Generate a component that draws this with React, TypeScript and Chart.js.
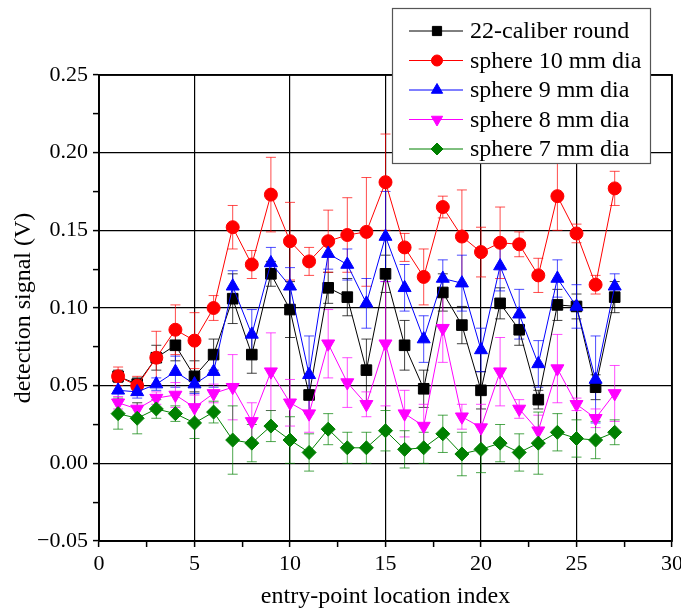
import React, { useEffect, useRef } from "react";
import { Chart, registerables } from "chart.js";
import { drawPoint } from "chart.js/helpers";
Chart.register(...registerables);

const FONT = "'Liberation Serif', 'Times New Roman', serif";

const locationIndex = [1, 2, 3, 4, 5, 6, 7, 8, 9, 10, 11, 12, 13, 14, 15, 16, 17, 18, 19, 20, 21, 22, 23, 24, 25, 26, 27];

const caliber22 = [0.056, 0.051, 0.068, 0.076, 0.056, 0.070, 0.106, 0.070, 0.122, 0.099, 0.044, 0.113, 0.107, 0.060, 0.122, 0.076, 0.048, 0.110, 0.089, 0.047, 0.103, 0.086, 0.041, 0.102, 0.101, 0.049, 0.107];
const caliber22Err = [0.004, 0.004, 0.008, 0.010, 0.010, 0.010, 0.016, 0.012, 0.008, 0.018, 0.012, 0.010, 0.012, 0.020, 0.012, 0.016, 0.012, 0.012, 0.012, 0.012, 0.010, 0.010, 0.006, 0.010, 0.008, 0.008, 0.010];

const sphere10 = [0.056, 0.050, 0.068, 0.086, 0.079, 0.100, 0.152, 0.128, 0.173, 0.143, 0.130, 0.143, 0.147, 0.149, 0.181, 0.139, 0.120, 0.165, 0.146, 0.136, 0.142, 0.141, 0.121, 0.172, 0.148, 0.115, 0.177];
const sphere10Err = [0.006, 0.006, 0.017, 0.016, 0.018, 0.008, 0.014, 0.009, 0.024, 0.025, 0.009, 0.020, 0.024, 0.035, 0.031, 0.009, 0.018, 0.007, 0.030, 0.016, 0.023, 0.008, 0.011, 0.022, 0.006, 0.006, 0.011];

const sphere9 = [0.047, 0.046, 0.051, 0.059, 0.051, 0.059, 0.114, 0.083, 0.129, 0.114, 0.057, 0.135, 0.128, 0.103, 0.146, 0.113, 0.080, 0.119, 0.116, 0.073, 0.127, 0.096, 0.064, 0.119, 0.101, 0.054, 0.114];
const sphere9Err = [0.006, 0.004, 0.004, 0.010, 0.006, 0.010, 0.010, 0.016, 0.010, 0.012, 0.025, 0.010, 0.010, 0.016, 0.029, 0.015, 0.015, 0.012, 0.018, 0.014, 0.016, 0.016, 0.015, 0.012, 0.014, 0.028, 0.008];

const sphere8 = [0.039, 0.035, 0.042, 0.044, 0.036, 0.045, 0.049, 0.027, 0.059, 0.039, 0.032, 0.077, 0.052, 0.038, 0.077, 0.032, 0.024, 0.087, 0.030, 0.023, 0.059, 0.035, 0.021, 0.061, 0.038, 0.029, 0.045];
const sphere8Err = [0.004, 0.004, 0.004, 0.008, 0.008, 0.006, 0.021, 0.012, 0.025, 0.015, 0.012, 0.022, 0.016, 0.008, 0.040, 0.015, 0.014, 0.022, 0.008, 0.015, 0.022, 0.006, 0.010, 0.022, 0.004, 0.006, 0.018];

const sphere7 = [0.032, 0.029, 0.035, 0.032, 0.026, 0.033, 0.015, 0.013, 0.024, 0.015, 0.007, 0.022, 0.010, 0.010, 0.021, 0.009, 0.010, 0.019, 0.006, 0.009, 0.013, 0.007, 0.013, 0.020, 0.016, 0.015, 0.020];
const sphere7Err = [0.010, 0.010, 0.006, 0.005, 0.010, 0.007, 0.022, 0.012, 0.010, 0.015, 0.012, 0.010, 0.010, 0.010, 0.013, 0.012, 0.010, 0.012, 0.014, 0.015, 0.012, 0.012, 0.020, 0.012, 0.012, 0.012, 0.008];

const seriesNames = ["22-caliber round", "sphere 10 mm dia", "sphere 9 mm dia", "sphere 8 mm dia", "sphere 7 mm dia"];
const seriesValues = [caliber22, sphere10, sphere9, sphere8, sphere7];
const seriesErrors = [caliber22Err, sphere10Err, sphere9Err, sphere8Err, sphere7Err];
const seriesColors = ["#000000", "#ff0000", "#0000ff", "#ff00ff", "#008000"];
const errColors = ["rgba(0,0,0,0.75)", "rgba(255,0,0,0.7)", "rgba(0,0,255,0.7)", "rgba(255,0,255,0.7)", "rgba(0,128,0,0.7)"];
const markerStyles = ["rect", "circle", "triangle", "triangle", "rectRot"];
const markerRotation = [0, 0, 0, 180, 0];
const markerRadius = [7.5, 6.5, 7.5, 7.5, 7];

const xTitle = "entry-point location index";
const yTitle = "detection signal (V)";

const isMultiple = (v: number, step: number) => Math.abs(v / step - Math.round(v / step)) < 1e-6;

const errorBarPlugin = {
  id: "errorBars",
  beforeDatasetsDraw(chart: any) {
    const ctx = chart.ctx;
    const xs = chart.scales.x;
    const ys = chart.scales.y;
    ctx.save();
    ctx.lineWidth = 1;
    seriesValues.forEach((vals, si) => {
      ctx.strokeStyle = errColors[si];
      vals.forEach((v, i) => {
        const e = seriesErrors[si][i];
        const px = xs.getPixelForValue(locationIndex[i]);
        const top = ys.getPixelForValue(v + e);
        const bot = ys.getPixelForValue(v - e);
        ctx.beginPath();
        ctx.moveTo(px, top);
        ctx.lineTo(px, bot);
        ctx.moveTo(px - 5, top);
        ctx.lineTo(px + 5, top);
        ctx.moveTo(px - 5, bot);
        ctx.lineTo(px + 5, bot);
        ctx.stroke();
      });
    });
    ctx.restore();
  },
};

const framePlugin = {
  id: "frame",
  afterDatasetsDraw(chart: any) {
    const { ctx, chartArea } = chart;
    ctx.save();
    ctx.strokeStyle = "#000";
    ctx.lineWidth = 1.8;
    ctx.strokeRect(chartArea.left, chartArea.top, chartArea.right - chartArea.left, chartArea.bottom - chartArea.top);
    ctx.restore();
  },
};

const legendPlugin = {
  id: "customLegend",
  afterDraw(chart: any) {
    const ctx = chart.ctx;
    const bx = 392, by = 8, bw = 258, bh = 155;
    ctx.save();
    ctx.fillStyle = "#ffffff";
    ctx.fillRect(bx, by, bw, bh);
    ctx.strokeStyle = "#555";
    ctx.lineWidth = 1.2;
    ctx.strokeRect(bx + 0.5, by + 0.5, bw, bh);
    ctx.font = `24px ${FONT}`;
    ctx.textBaseline = "middle";
    ctx.textAlign = "left";
    seriesNames.forEach((name, i) => {
      const y = 31 + i * 29.5;
      ctx.strokeStyle = seriesColors[i];
      ctx.lineWidth = 1;
      ctx.beginPath();
      ctx.moveTo(409, y);
      ctx.lineTo(463, y);
      ctx.stroke();
      ctx.fillStyle = seriesColors[i];
      drawPoint(ctx, { pointStyle: markerStyles[i], radius: markerRadius[i] - 1, rotation: markerRotation[i], borderWidth: 1 } as any, 437, y);
      ctx.fillStyle = "#000";
      ctx.fillText(name, 470, y + 1);
    });
    ctx.restore();
  },
};

export default function App() {
  const ref = useRef<HTMLCanvasElement | null>(null);
  useEffect(() => {
    if (!ref.current) return;
    const datasets = seriesValues.map((vals, i) => ({
      label: seriesNames[i],
      data: vals.map((v, j) => ({ x: locationIndex[j], y: v })),
      borderColor: seriesColors[i],
      backgroundColor: seriesColors[i],
      pointBackgroundColor: seriesColors[i],
      pointBorderColor: seriesColors[i],
      borderWidth: 1,
      pointStyle: markerStyles[i],
      pointRotation: markerRotation[i],
      pointRadius: markerRadius[i],
      pointBorderWidth: 1,
      tension: 0,
      order: 5 - i,
    }));
    const chart = new Chart(ref.current, {
      type: "line",
      data: { datasets },
      options: {
        animation: false,
        responsive: false,
        maintainAspectRatio: false,
        layout: { padding: { left: 0, right: 28, top: 75, bottom: 0 } },
        plugins: { legend: { display: false }, tooltip: { enabled: false } },
        scales: {
          x: {
            type: "linear",
            min: 0,
            max: 30,
            afterFit: (s: any) => { s.height = 73; },
            border: { display: true, color: "#000", width: 1.8 },
            grid: {
              color: (c: any) => (isMultiple(c.tick.value, 5) ? "#000" : "rgba(0,0,0,0)"),
              lineWidth: 1.2,
              tickColor: "#000",
              tickLength: 6,
              tickWidth: 1.5,
            },
            ticks: {
              stepSize: 2.5,
              autoSkip: false,
              maxRotation: 0,
              color: "#000",
              padding: 4,
              font: { family: FONT, size: 22 },
              callback: (v: any) => (isMultiple(Number(v), 5) ? String(Math.round(Number(v))) : ""),
            },
            title: { display: true, text: xTitle, color: "#000", font: { family: FONT, size: 24 }, padding: { top: 0, bottom: 3 } },
          },
          y: {
            type: "linear",
            min: -0.05,
            max: 0.25,
            afterFit: (s: any) => { s.width = 99; },
            border: { display: true, color: "#000", width: 1.8 },
            grid: {
              color: (c: any) => (isMultiple(c.tick.value, 0.05) ? "#000" : "rgba(0,0,0,0)"),
              lineWidth: 1.2,
              tickColor: "#000",
              tickLength: 6,
              tickWidth: 1.5,
            },
            ticks: {
              stepSize: 0.025,
              autoSkip: false,
              color: "#000",
              padding: 5,
              font: { family: FONT, size: 22 },
              callback: (v: any) => {
                const n = Number(v);
                if (!isMultiple(n, 0.05)) return "";
                return (Math.round(n * 100) / 100).toFixed(2).replace("-", "\u2212");
              },
            },
            title: { display: true, text: yTitle, color: "#000", font: { family: FONT, size: 24 }, padding: { top: 9, bottom: 0 } },
          },
        },
      },
      plugins: [errorBarPlugin, framePlugin, legendPlugin],
    });
    return () => chart.destroy();
  }, []);
  return (
    <div style={{ position: "fixed", left: 0, top: 0, width: 681, height: 614, overflow: "hidden", background: "#fff" }}>
      <canvas ref={ref} width={700} height={614} style={{ width: 700, height: 614, display: "block" }} />
    </div>
  );
}
